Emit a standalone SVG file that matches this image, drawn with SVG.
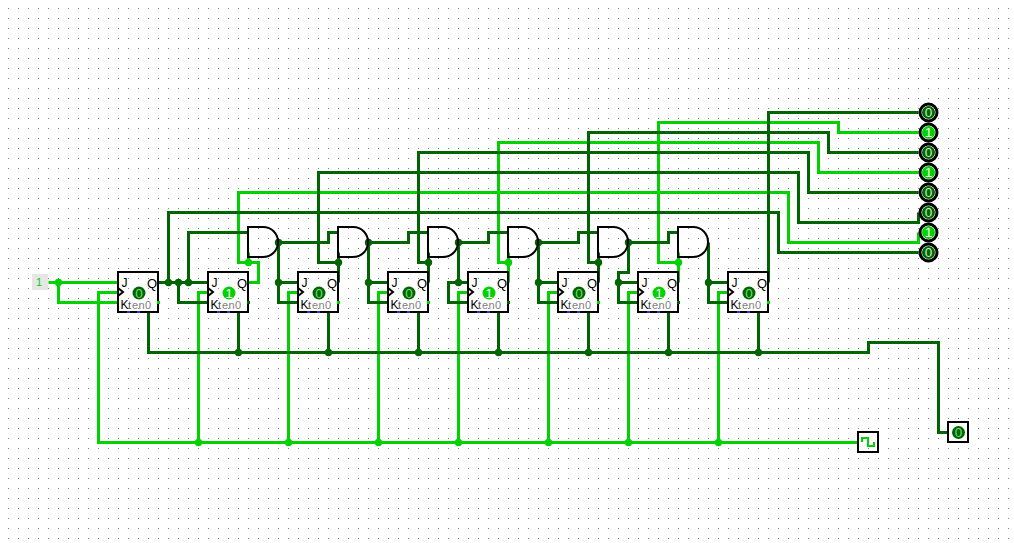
<svg xmlns="http://www.w3.org/2000/svg" width="1014" height="543" viewBox="0 0 1014 543">
<style>
.d,.l{fill:none;stroke-width:3}
.d{stroke:#006400}
.l{stroke:#00d200}
.dd{fill:#006400}
.ld{fill:#00d200}
.b{fill:none;stroke:#000;stroke-width:2}
.r{fill:#fff;stroke:#000;stroke-width:3}
.t{font-family:"Liberation Sans",Arial,sans-serif;font-size:12px;fill:#000}
.q{font-family:"Liberation Sans",Arial,sans-serif;font-size:13px;fill:#000}
.g{font-family:"Liberation Sans",Arial,sans-serif;font-size:11px;fill:#808080;letter-spacing:.4px}
.k{font-family:"Liberation Sans",Arial,sans-serif;font-size:11px;fill:#555}
.v{font-family:"Liberation Sans",Arial,sans-serif;font-size:13.5px;text-anchor:middle}
.v0{fill:#66e066}
.w0{fill:#c0f0c0}
.v1{fill:#fff}
.blue{fill:#3333dd}
</style>
<defs>
<pattern id="grid" width="10" height="10" patternUnits="userSpaceOnUse"><rect x="8" y="8" width="1" height="1" fill="#808080"/></pattern>
<g id="ffbody">
<rect class="b" x="0" y="0" width="40" height="40"/>
<polyline class="b" points="0,16 5,20 0,24"/>
<text class="t" x="3.5" y="15">J</text>
<text class="q" x="29" y="16">Q</text>
<text class="t" x="2.5" y="37">K</text>
<text class="k" x="10" y="37">t</text>
<text class="g" x="14" y="37">en0</text>
<rect class="blue" x="9" y="39" width="3" height="2"/>
<rect class="blue" x="19" y="39" width="3" height="2"/>
</g>
<path id="andshape" class="b" d="M15,0H0V30H15C24,30 30,23 30,15C30,7 24,0 15,0Z"/>
</defs>
<rect width="1014" height="543" fill="#fff"/>
<rect width="1014" height="543" fill="url(#grid)"/>
<g id="connectors" transform="translate(.5,.5)">
<g class="l">
<polyline points="48,282 118,282"/>
<polyline points="58,282 58,302 118,302"/>
<polyline points="118,292 98,292 98,442 858,442"/>
<polyline points="208,292 198,292 198,442"/>
<polyline points="298,292 288,292 288,442"/>
<polyline points="388,292 378,292 378,442"/>
<polyline points="468,292 458,292 458,442"/>
<polyline points="558,292 548,292 548,442"/>
<polyline points="638,292 628,292 628,442"/>
<polyline points="728,292 718,292 718,442"/>
<polyline points="248,282 258,282 258,262 238,262 238,192 788,192 788,242 918,242 918,232"/>
<polyline points="248,262 248,252"/>
<polyline points="508,282 508,262 498,262 498,142 818,142 818,172 918,172"/>
<polyline points="508,262 508,252"/>
<polyline points="678,282 678,262 658,262 658,122 838,122 838,132 918,132"/>
<polyline points="678,262 678,252"/>
</g>
<g class="d">
<polyline points="158,282 208,282"/>
<polyline points="168,282 168,212 778,212 778,252 918,252"/>
<polyline points="178,282 178,302 208,302"/>
<polyline points="188,282 188,232 248,232"/>
<polyline points="148,312 148,352 868,352 868,342 938,342 938,432 948,432"/>
<polyline points="238,312 238,352"/>
<polyline points="328,312 328,352"/>
<polyline points="418,312 418,352"/>
<polyline points="498,312 498,352"/>
<polyline points="588,312 588,352"/>
<polyline points="668,312 668,352"/>
<polyline points="758,312 758,352"/>
<polyline points="278,242 328,242 328,232 338,232"/>
<polyline points="298,282 278,282"/>
<polyline points="278,242 278,302 298,302"/>
<polyline points="338,282 338,252"/>
<polyline points="338,262 318,262 318,172 798,172 798,222 918,222 918,212"/>
<polyline points="368,242 408,242 408,232 428,232"/>
<polyline points="388,282 368,282"/>
<polyline points="368,242 368,302 388,302"/>
<polyline points="428,282 428,252"/>
<polyline points="428,262 418,262 418,152 808,152 808,192 918,192"/>
<polyline points="458,242 488,242 488,232 508,232"/>
<polyline points="458,242 458,282"/>
<polyline points="468,282 448,282 448,302 468,302"/>
<polyline points="538,242 578,242 578,232 598,232"/>
<polyline points="558,282 538,282"/>
<polyline points="538,242 538,302 558,302"/>
<polyline points="598,282 598,252"/>
<polyline points="598,262 588,262 588,132 828,132 828,152 918,152"/>
<polyline points="628,242 668,242 668,232 678,232"/>
<polyline points="628,242 628,272 618,272 618,302 638,302"/>
<polyline points="638,282 618,282"/>
<polyline points="708,242 708,302 728,302"/>
<polyline points="728,282 708,282"/>
<polyline points="768,282 768,112 918,112"/>
</g>
<g class="ld">
<circle cx="58" cy="282" r="3.7"/><circle cx="248" cy="262" r="3.7"/><circle cx="508" cy="262" r="3.7"/><circle cx="678" cy="262" r="3.7"/>
<circle cx="198" cy="442" r="3.7"/><circle cx="288" cy="442" r="3.7"/><circle cx="378" cy="442" r="3.7"/><circle cx="458" cy="442" r="3.7"/><circle cx="548" cy="442" r="3.7"/><circle cx="628" cy="442" r="3.7"/><circle cx="718" cy="442" r="3.7"/>
</g>
<g class="dd">
<circle cx="168" cy="282" r="3.7"/><circle cx="178" cy="282" r="3.7"/><circle cx="188" cy="282" r="3.7"/>
<circle cx="278" cy="242" r="3.7"/><circle cx="278" cy="282" r="3.7"/>
<circle cx="368" cy="242" r="3.7"/><circle cx="368" cy="282" r="3.7"/>
<circle cx="458" cy="242" r="3.7"/><circle cx="458" cy="282" r="3.7"/>
<circle cx="538" cy="242" r="3.7"/><circle cx="538" cy="282" r="3.7"/>
<circle cx="628" cy="242" r="3.7"/><circle cx="618" cy="282" r="3.7"/>
<circle cx="708" cy="282" r="3.7"/>
<circle cx="338" cy="262" r="3.7"/><circle cx="428" cy="262" r="3.7"/><circle cx="598" cy="262" r="3.7"/>
<circle cx="238" cy="352" r="3.7"/><circle cx="328" cy="352" r="3.7"/><circle cx="418" cy="352" r="3.7"/><circle cx="498" cy="352" r="3.7"/><circle cx="588" cy="352" r="3.7"/><circle cx="668" cy="352" r="3.7"/><circle cx="758" cy="352" r="3.7"/>
</g>
</g>
<g id="input-pin">
<rect x="32" y="274" width="16" height="16" fill="#e6e6e6"/>
<text x="39" y="286" style="font-family:'Liberation Sans',Arial,sans-serif;font-size:11px;text-anchor:middle" fill="#00d200">1</text>
</g>
<g id="ff1" transform="translate(118,272)"><use href="#ffbody"/><circle class="dd" cx="21" cy="21" r="6.5"/><text class="v v0" x="21" y="25.5">0</text><rect class="ld" x="39" y="29" width="3" height="3"/></g>
<g id="ff2" transform="translate(208,272)"><use href="#ffbody"/><circle class="ld" cx="21" cy="21" r="6.5"/><text class="v v1" x="21" y="25.5">1</text><rect class="dd" x="39" y="29" width="3" height="3"/></g>
<g id="ff3" transform="translate(298,272)"><use href="#ffbody"/><circle class="dd" cx="21" cy="21" r="6.5"/><text class="v v0" x="21" y="25.5">0</text><rect class="ld" x="39" y="29" width="3" height="3"/></g>
<g id="ff4" transform="translate(388,272)"><use href="#ffbody"/><circle class="dd" cx="21" cy="21" r="6.5"/><text class="v v0" x="21" y="25.5">0</text><rect class="ld" x="39" y="29" width="3" height="3"/></g>
<g id="ff5" transform="translate(468,272)"><use href="#ffbody"/><circle class="ld" cx="21" cy="21" r="6.5"/><text class="v v1" x="21" y="25.5">1</text><rect class="dd" x="39" y="29" width="3" height="3"/></g>
<g id="ff6" transform="translate(558,272)"><use href="#ffbody"/><circle class="dd" cx="21" cy="21" r="6.5"/><text class="v v0" x="21" y="25.5">0</text><rect class="ld" x="39" y="29" width="3" height="3"/></g>
<g id="ff7" transform="translate(638,272)"><use href="#ffbody"/><circle class="ld" cx="21" cy="21" r="6.5"/><text class="v v1" x="21" y="25.5">1</text><rect class="dd" x="39" y="29" width="3" height="3"/></g>
<g id="ff8" transform="translate(728,272)"><use href="#ffbody"/><circle class="dd" cx="21" cy="21" r="6.5"/><text class="v v0" x="21" y="25.5">0</text><rect class="ld" x="39" y="29" width="3" height="3"/></g>
<g id="and1" transform="translate(248,227)"><use href="#andshape"/></g>
<g id="and2" transform="translate(338,227)"><use href="#andshape"/></g>
<g id="and3" transform="translate(428,227)"><use href="#andshape"/></g>
<g id="and4" transform="translate(508,227)"><use href="#andshape"/></g>
<g id="and5" transform="translate(598,227)"><use href="#andshape"/></g>
<g id="and6" transform="translate(678,227)"><use href="#andshape"/></g>
<g id="led1"><circle class="r" cx="928.5" cy="112.5" r="8.5"/><circle class="dd" cx="928.5" cy="112.5" r="6.5"/><text class="v w0" x="928.5" y="117">0</text></g>
<g id="led2"><circle class="r" cx="928.5" cy="132.5" r="8.5"/><circle class="ld" cx="928.5" cy="132.5" r="6.5"/><text class="v v1" x="928.5" y="137">1</text></g>
<g id="led3"><circle class="r" cx="928.5" cy="152.5" r="8.5"/><circle class="dd" cx="928.5" cy="152.5" r="6.5"/><text class="v w0" x="928.5" y="157">0</text></g>
<g id="led4"><circle class="r" cx="928.5" cy="172.5" r="8.5"/><circle class="ld" cx="928.5" cy="172.5" r="6.5"/><text class="v v1" x="928.5" y="177">1</text></g>
<g id="led5"><circle class="r" cx="928.5" cy="192.5" r="8.5"/><circle class="dd" cx="928.5" cy="192.5" r="6.5"/><text class="v w0" x="928.5" y="197">0</text></g>
<g id="led6"><circle class="r" cx="928.5" cy="212.5" r="8.5"/><circle class="dd" cx="928.5" cy="212.5" r="6.5"/><text class="v w0" x="928.5" y="217">0</text></g>
<g id="led7"><circle class="r" cx="928.5" cy="232.5" r="8.5"/><circle class="ld" cx="928.5" cy="232.5" r="6.5"/><text class="v v1" x="928.5" y="237">1</text></g>
<g id="led8"><circle class="r" cx="928.5" cy="252.5" r="8.5"/><circle class="dd" cx="928.5" cy="252.5" r="6.5"/><text class="v w0" x="928.5" y="257">0</text></g>
<g id="clock"><rect class="b" x="858" y="432" width="20" height="20"/><polyline class="l" style="stroke-width:2" points="862,442 862,438 868,438 868,446 874,446 874,442"/></g>
<g id="output"><rect class="b" x="948" y="422" width="20" height="20"/><circle class="dd" cx="958.5" cy="432.5" r="6.5"/><text class="v v0" x="958.5" y="437">0</text></g>
</svg>
